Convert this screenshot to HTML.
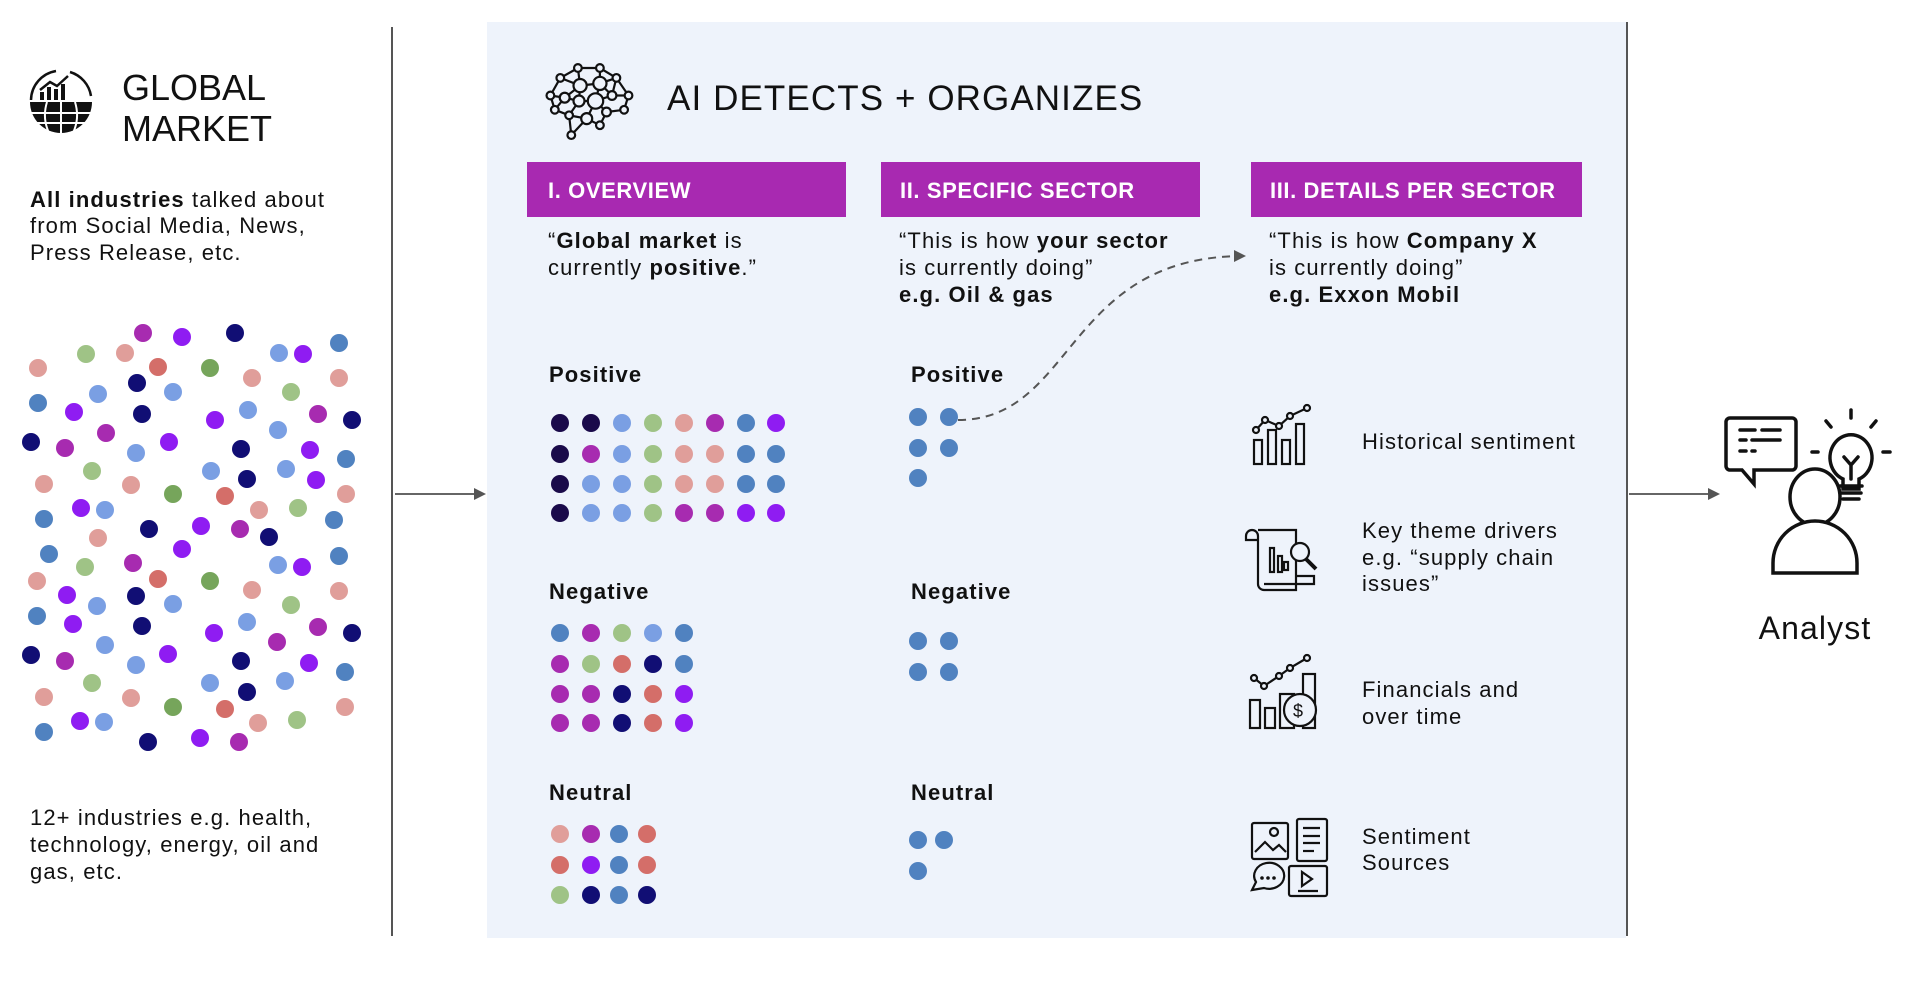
<!DOCTYPE html>
<html><head><meta charset="utf-8"><style>
html,body{margin:0;padding:0;background:#fff;}
svg{display:block;}
text{font-family:"Liberation Sans",sans-serif;fill:#111;}
.b{font-weight:bold;}
.t{letter-spacing:1.1px;}
</style></head><body>
<svg width="1910" height="984" viewBox="0 0 1910 984" xmlns="http://www.w3.org/2000/svg">
<defs>
<marker id="ah" markerWidth="12" markerHeight="12" refX="10" refY="6" orient="auto" markerUnits="userSpaceOnUse"><path d="M0,0 L12,6 L0,12 Z" fill="#555"/></marker>
</defs>
<rect x="487" y="22" width="1139" height="916" fill="#eef3fb"/>
<line x1="392" y1="27" x2="392" y2="936" stroke="#555" stroke-width="2"/>
<line x1="1627" y1="22" x2="1627" y2="936" stroke="#555" stroke-width="2"/>
<line x1="395" y1="494" x2="484" y2="494" stroke="#666" stroke-width="2" marker-end="url(#ah)"/>
<line x1="1629" y1="494" x2="1718" y2="494" stroke="#666" stroke-width="2" marker-end="url(#ah)"/>

<!-- global icon -->
<g stroke="#111" stroke-width="2.5" fill="none">
<path d="M31,100 A30,30 0 0 1 56,71"/><path d="M70,72 A30,30 0 0 1 91,96"/>
<path d="M40,90 L50,82 L57,86 L68,76"/>
</g>
<g fill="#111">
<rect x="40" y="92" width="4" height="8"/><rect x="47" y="87" width="4" height="13"/><rect x="54" y="89" width="4" height="11"/><rect x="61" y="84" width="4" height="16"/>
<path d="M30,102 L92,102 A31,31 0 0 1 30,102 Z"/>
</g>
<g stroke="#eef3fb" stroke-width="0"></g>
<g stroke="#fff" stroke-width="2" fill="none"><path d="M31,113 L91,113 M35,123 L87,123 M61,102 L61,134 M47,102 Q42,118 49,133 M75,102 Q80,118 73,133"/></g>
<text x="122" y="100" font-size="36">GLOBAL</text>
<text x="122" y="141" font-size="36">MARKET</text>
<g class="t" font-size="22">
<text x="30" y="207"><tspan class="b">All industries</tspan> talked about</text>
<text x="30" y="233">from Social Media, News,</text>
<text x="30" y="260">Press Release, etc.</text>
<text x="30" y="825">12+ industries e.g.  health,</text>
<text x="30" y="852">technology, energy, oil and</text>
<text x="30" y="879">gas, etc.</text>
</g>

<!-- scatter -->
<g>
<circle cx="143" cy="333" r="9" fill="#a72bb0"/><circle cx="182" cy="337" r="9" fill="#8f1cf2"/><circle cx="235" cy="333" r="9" fill="#110e74"/><circle cx="339" cy="343" r="9" fill="#5082c0"/><circle cx="279" cy="353" r="9" fill="#7a9fe3"/><circle cx="303" cy="354" r="9" fill="#8f1cf2"/><circle cx="86" cy="354" r="9" fill="#9fc386"/><circle cx="125" cy="353" r="9" fill="#e09e9a"/><circle cx="38" cy="368" r="9" fill="#e09e9a"/><circle cx="158" cy="367" r="9" fill="#d46e69"/><circle cx="210" cy="368" r="9" fill="#76a55b"/><circle cx="252" cy="378" r="9" fill="#e09e9a"/><circle cx="339" cy="378" r="9" fill="#e09e9a"/><circle cx="137" cy="383" r="9" fill="#110e74"/><circle cx="98" cy="394" r="9" fill="#7a9fe3"/><circle cx="173" cy="392" r="9" fill="#7a9fe3"/><circle cx="291" cy="392" r="9" fill="#9fc386"/><circle cx="38" cy="403" r="9" fill="#5082c0"/><circle cx="74" cy="412" r="9" fill="#8f1cf2"/><circle cx="142" cy="414" r="9" fill="#110e74"/><circle cx="215" cy="420" r="9" fill="#8f1cf2"/><circle cx="248" cy="410" r="9" fill="#7a9fe3"/><circle cx="318" cy="414" r="9" fill="#a72bb0"/><circle cx="352" cy="420" r="9" fill="#110e74"/><circle cx="278" cy="430" r="9" fill="#7a9fe3"/><circle cx="31" cy="442" r="9" fill="#110e74"/><circle cx="65" cy="448" r="9" fill="#a72bb0"/><circle cx="106" cy="433" r="9" fill="#a72bb0"/><circle cx="136" cy="453" r="9" fill="#7a9fe3"/><circle cx="169" cy="442" r="9" fill="#8f1cf2"/><circle cx="241" cy="449" r="9" fill="#110e74"/><circle cx="310" cy="450" r="9" fill="#8f1cf2"/><circle cx="346" cy="459" r="9" fill="#5082c0"/><circle cx="92" cy="471" r="9" fill="#9fc386"/><circle cx="211" cy="471" r="9" fill="#7a9fe3"/><circle cx="247" cy="479" r="9" fill="#110e74"/><circle cx="286" cy="469" r="9" fill="#7a9fe3"/><circle cx="316" cy="480" r="9" fill="#8f1cf2"/><circle cx="44" cy="484" r="9" fill="#e09e9a"/><circle cx="131" cy="485" r="9" fill="#e09e9a"/><circle cx="173" cy="494" r="9" fill="#76a55b"/><circle cx="225" cy="496" r="9" fill="#d46e69"/><circle cx="259" cy="510" r="9" fill="#e09e9a"/><circle cx="298" cy="508" r="9" fill="#9fc386"/><circle cx="346" cy="494" r="9" fill="#e09e9a"/><circle cx="81" cy="508" r="9" fill="#8f1cf2"/><circle cx="105" cy="510" r="9" fill="#7a9fe3"/><circle cx="44" cy="519" r="9" fill="#5082c0"/><circle cx="334" cy="520" r="9" fill="#5082c0"/><circle cx="149" cy="529" r="9" fill="#110e74"/><circle cx="201" cy="526" r="9" fill="#8f1cf2"/><circle cx="240" cy="529" r="9" fill="#a72bb0"/><circle cx="269" cy="537" r="9" fill="#110e74"/><circle cx="98" cy="538" r="9" fill="#e09e9a"/><circle cx="182" cy="549" r="9" fill="#8f1cf2"/><circle cx="49" cy="554" r="9" fill="#5082c0"/><circle cx="339" cy="556" r="9" fill="#5082c0"/><circle cx="85" cy="567" r="9" fill="#9fc386"/><circle cx="133" cy="563" r="9" fill="#a72bb0"/><circle cx="278" cy="565" r="9" fill="#7a9fe3"/><circle cx="302" cy="567" r="9" fill="#8f1cf2"/><circle cx="37" cy="581" r="9" fill="#e09e9a"/><circle cx="158" cy="579" r="9" fill="#d46e69"/><circle cx="210" cy="581" r="9" fill="#76a55b"/><circle cx="252" cy="590" r="9" fill="#e09e9a"/><circle cx="339" cy="591" r="9" fill="#e09e9a"/><circle cx="67" cy="595" r="9" fill="#8f1cf2"/><circle cx="136" cy="596" r="9" fill="#110e74"/><circle cx="97" cy="606" r="9" fill="#7a9fe3"/><circle cx="173" cy="604" r="9" fill="#7a9fe3"/><circle cx="291" cy="605" r="9" fill="#9fc386"/><circle cx="37" cy="616" r="9" fill="#5082c0"/><circle cx="73" cy="624" r="9" fill="#8f1cf2"/><circle cx="142" cy="626" r="9" fill="#110e74"/><circle cx="214" cy="633" r="9" fill="#8f1cf2"/><circle cx="247" cy="622" r="9" fill="#7a9fe3"/><circle cx="318" cy="627" r="9" fill="#a72bb0"/><circle cx="352" cy="633" r="9" fill="#110e74"/><circle cx="277" cy="642" r="9" fill="#a72bb0"/><circle cx="31" cy="655" r="9" fill="#110e74"/><circle cx="65" cy="661" r="9" fill="#a72bb0"/><circle cx="105" cy="645" r="9" fill="#7a9fe3"/><circle cx="136" cy="665" r="9" fill="#7a9fe3"/><circle cx="168" cy="654" r="9" fill="#8f1cf2"/><circle cx="241" cy="661" r="9" fill="#110e74"/><circle cx="309" cy="663" r="9" fill="#8f1cf2"/><circle cx="345" cy="672" r="9" fill="#5082c0"/><circle cx="92" cy="683" r="9" fill="#9fc386"/><circle cx="210" cy="683" r="9" fill="#7a9fe3"/><circle cx="247" cy="692" r="9" fill="#110e74"/><circle cx="285" cy="681" r="9" fill="#7a9fe3"/><circle cx="44" cy="697" r="9" fill="#e09e9a"/><circle cx="131" cy="698" r="9" fill="#e09e9a"/><circle cx="173" cy="707" r="9" fill="#76a55b"/><circle cx="225" cy="709" r="9" fill="#d46e69"/><circle cx="258" cy="723" r="9" fill="#e09e9a"/><circle cx="297" cy="720" r="9" fill="#9fc386"/><circle cx="345" cy="707" r="9" fill="#e09e9a"/><circle cx="80" cy="721" r="9" fill="#8f1cf2"/><circle cx="104" cy="722" r="9" fill="#7a9fe3"/><circle cx="44" cy="732" r="9" fill="#5082c0"/><circle cx="148" cy="742" r="9" fill="#110e74"/><circle cx="200" cy="738" r="9" fill="#8f1cf2"/><circle cx="239" cy="742" r="9" fill="#a72bb0"/>
</g>

<!-- brain icon -->
<g transform="translate(590,101) scale(1.1) translate(-590,-101)">
<g stroke="#111" stroke-width="2" fill="#eef3fb">
<path d="M579,71 L599,71 L614,80 L625,96 L621,109 L605,111 L599,123 L587,117 L573,132 L571,114 L558,109 L554,96 L563,80 L579,71 M579,71 L581,87 L599,85 L599,71 M563,80 L581,87 L567,98 L554,96 M581,87 L580,101 L595,101 L599,85 L614,80 L610,96 L595,101 L605,111 L621,109 M610,96 L625,96 M567,98 L580,101 L571,114 L587,117 L595,101 M567,98 L558,109 M571,114 L573,132 M605,111 L599,123 M599,85 L610,96" fill="none"/>
<circle cx="579" cy="71" r="3.5"/><circle cx="599" cy="71" r="3.5"/><circle cx="563" cy="80" r="3.5"/><circle cx="614" cy="80" r="3.5"/><circle cx="581" cy="87" r="6"/><circle cx="599" cy="85" r="6"/><circle cx="554" cy="96" r="3.5"/><circle cx="567" cy="98" r="4.5"/><circle cx="580" cy="101" r="5"/><circle cx="595" cy="101" r="7"/><circle cx="610" cy="96" r="4"/><circle cx="625" cy="96" r="3.5"/><circle cx="558" cy="109" r="3.5"/><circle cx="571" cy="114" r="3.5"/><circle cx="587" cy="117" r="5"/><circle cx="605" cy="111" r="4"/><circle cx="621" cy="109" r="3.5"/><circle cx="599" cy="123" r="3.5"/><circle cx="573" cy="132" r="3.5"/>
</g></g>
<text x="667" y="110" font-size="35" class="t">AI DETECTS + ORGANIZES</text>

<!-- purple headers -->
<rect x="527" y="162" width="319" height="55" fill="#a829b1"/>
<rect x="881" y="162" width="319" height="55" fill="#a829b1"/>
<rect x="1251" y="162" width="331" height="55" fill="#a829b1"/>
<g font-size="22" class="b" style="letter-spacing:0.6px">
<text x="548" y="198" style="fill:#fff">I. OVERVIEW</text>
<text x="900" y="198" style="fill:#fff">II. SPECIFIC SECTOR</text>
<text x="1270" y="198" style="fill:#fff">III. DETAILS PER SECTOR</text>
</g>

<g font-size="22" class="t">
<text x="548" y="248">“<tspan class="b">Global market</tspan> is</text>
<text x="548" y="275">currently <tspan class="b">positive</tspan>.”</text>
<text x="899" y="248">“This is how  <tspan class="b">your sector</tspan></text>
<text x="899" y="275">is currently doing”</text>
<text x="899" y="302" class="b">e.g. Oil &amp; gas</text>
<text x="1269" y="248">“This is how  <tspan class="b">Company X</tspan></text>
<text x="1269" y="275">is currently doing”</text>
<text x="1269" y="302" class="b">e.g. Exxon Mobil</text>

<text x="549" y="382" class="b">Positive</text>
<text x="549" y="599" class="b">Negative</text>
<text x="549" y="800" class="b">Neutral</text>
<text x="911" y="382" class="b">Positive</text>
<text x="911" y="599" class="b">Negative</text>
<text x="911" y="800" class="b">Neutral</text>
</g>

<!-- overview grids -->
<g>
<circle cx="560" cy="423" r="9" fill="#1a0a4a"/><circle cx="591" cy="423" r="9" fill="#1a0a4a"/><circle cx="622" cy="423" r="9" fill="#7a9fe3"/><circle cx="653" cy="423" r="9" fill="#9fc386"/><circle cx="684" cy="423" r="9" fill="#e09e9a"/><circle cx="715" cy="423" r="9" fill="#a72bb0"/><circle cx="746" cy="423" r="9" fill="#5082c0"/><circle cx="776" cy="423" r="9" fill="#8f1cf2"/>
<circle cx="560" cy="454" r="9" fill="#1a0a4a"/><circle cx="591" cy="454" r="9" fill="#a72bb0"/><circle cx="622" cy="454" r="9" fill="#7a9fe3"/><circle cx="653" cy="454" r="9" fill="#9fc386"/><circle cx="684" cy="454" r="9" fill="#e09e9a"/><circle cx="715" cy="454" r="9" fill="#e09e9a"/><circle cx="746" cy="454" r="9" fill="#5082c0"/><circle cx="776" cy="454" r="9" fill="#5082c0"/>
<circle cx="560" cy="484" r="9" fill="#1a0a4a"/><circle cx="591" cy="484" r="9" fill="#7a9fe3"/><circle cx="622" cy="484" r="9" fill="#7a9fe3"/><circle cx="653" cy="484" r="9" fill="#9fc386"/><circle cx="684" cy="484" r="9" fill="#e09e9a"/><circle cx="715" cy="484" r="9" fill="#e09e9a"/><circle cx="746" cy="484" r="9" fill="#5082c0"/><circle cx="776" cy="484" r="9" fill="#5082c0"/>
<circle cx="560" cy="513" r="9" fill="#1a0a4a"/><circle cx="591" cy="513" r="9" fill="#7a9fe3"/><circle cx="622" cy="513" r="9" fill="#7a9fe3"/><circle cx="653" cy="513" r="9" fill="#9fc386"/><circle cx="684" cy="513" r="9" fill="#a72bb0"/><circle cx="715" cy="513" r="9" fill="#a72bb0"/><circle cx="746" cy="513" r="9" fill="#8f1cf2"/><circle cx="776" cy="513" r="9" fill="#8f1cf2"/>

<circle cx="560" cy="633" r="9" fill="#5082c0"/><circle cx="591" cy="633" r="9" fill="#a72bb0"/><circle cx="622" cy="633" r="9" fill="#9fc386"/><circle cx="653" cy="633" r="9" fill="#7a9fe3"/><circle cx="684" cy="633" r="9" fill="#5082c0"/>
<circle cx="560" cy="664" r="9" fill="#a72bb0"/><circle cx="591" cy="664" r="9" fill="#9fc386"/><circle cx="622" cy="664" r="9" fill="#d46e69"/><circle cx="653" cy="664" r="9" fill="#110e74"/><circle cx="684" cy="664" r="9" fill="#5082c0"/>
<circle cx="560" cy="694" r="9" fill="#a72bb0"/><circle cx="591" cy="694" r="9" fill="#a72bb0"/><circle cx="622" cy="694" r="9" fill="#110e74"/><circle cx="653" cy="694" r="9" fill="#d46e69"/><circle cx="684" cy="694" r="9" fill="#8f1cf2"/>
<circle cx="560" cy="723" r="9" fill="#a72bb0"/><circle cx="591" cy="723" r="9" fill="#a72bb0"/><circle cx="622" cy="723" r="9" fill="#110e74"/><circle cx="653" cy="723" r="9" fill="#d46e69"/><circle cx="684" cy="723" r="9" fill="#8f1cf2"/>

<circle cx="560" cy="834" r="9" fill="#e09e9a"/><circle cx="591" cy="834" r="9" fill="#a72bb0"/><circle cx="619" cy="834" r="9" fill="#5082c0"/><circle cx="647" cy="834" r="9" fill="#d46e69"/>
<circle cx="560" cy="865" r="9" fill="#d46e69"/><circle cx="591" cy="865" r="9" fill="#8f1cf2"/><circle cx="619" cy="865" r="9" fill="#5082c0"/><circle cx="647" cy="865" r="9" fill="#d46e69"/>
<circle cx="560" cy="895" r="9" fill="#9fc386"/><circle cx="591" cy="895" r="9" fill="#110e74"/><circle cx="619" cy="895" r="9" fill="#5082c0"/><circle cx="647" cy="895" r="9" fill="#110e74"/>
</g>
<!-- sector dots -->
<path d="M958,420 C1075,420 1065,256 1244,256" stroke="#555" stroke-width="2" fill="none" stroke-dasharray="8,6" marker-end="url(#ah)"/>
<g fill="#5082c0">
<circle cx="918" cy="417" r="9"/><circle cx="949" cy="417" r="9"/><circle cx="918" cy="448" r="9"/><circle cx="949" cy="448" r="9"/><circle cx="918" cy="478" r="9"/>
<circle cx="918" cy="641" r="9"/><circle cx="949" cy="641" r="9"/><circle cx="918" cy="672" r="9"/><circle cx="949" cy="672" r="9"/>
<circle cx="918" cy="840" r="9"/><circle cx="944" cy="840" r="9"/><circle cx="918" cy="871" r="9"/>
</g>

<!-- detail icons -->
<g stroke="#111" stroke-width="2.2" fill="none">
<rect x="1254" y="440" width="8" height="24"/><rect x="1268" y="430" width="8" height="34"/><rect x="1282" y="440" width="8" height="24"/><rect x="1296" y="424" width="8" height="40"/>
<polyline points="1256,430 1265,420 1279,426 1290,416 1307,408"/>
<circle cx="1256" cy="430" r="3" fill="#eef3fb"/><circle cx="1265" cy="420" r="3" fill="#eef3fb"/><circle cx="1279" cy="426" r="3" fill="#eef3fb"/><circle cx="1290" cy="416" r="3" fill="#eef3fb"/><circle cx="1307" cy="408" r="3" fill="#eef3fb"/>

<path d="M1258,530 h38 v60 h-32 a6,6 0 0 1 -6,-6 v-48 a6,6 0 0 0 -6,-6 a6,6 0 0 0 -6,6 v4 h12"/>
<path d="M1264,584 h50 v-8 h-18"/>
<rect x="1270" y="548" width="4" height="24"/><rect x="1278" y="556" width="4" height="16"/><rect x="1284" y="562" width="4" height="8"/>
<circle cx="1300" cy="552" r="9" fill="#eef3fb"/><line x1="1306" y1="559" x2="1316" y2="569" stroke-width="4"/>

<rect x="1250" y="700" width="10" height="28"/><rect x="1265" y="708" width="10" height="20"/><rect x="1280" y="694" width="14" height="34"/><rect x="1303" y="674" width="12" height="54"/>
<circle cx="1300" cy="710" r="16" fill="#eef3fb"/>
<polyline points="1254,678 1264,686 1279,676 1290,668 1307,658"/>
<circle cx="1254" cy="678" r="3" fill="#eef3fb"/><circle cx="1264" cy="686" r="3" fill="#eef3fb"/><circle cx="1279" cy="676" r="3" fill="#eef3fb"/><circle cx="1290" cy="668" r="3" fill="#eef3fb"/><circle cx="1307" cy="658" r="3" fill="#eef3fb"/>

<rect x="1252" y="823" width="36" height="36" rx="2"/><circle cx="1274" cy="832" r="4"/><polyline points="1255,852 1265,842 1273,850 1279,845 1286,852"/>
<rect x="1297" y="819" width="30" height="42" rx="2"/><line x1="1303" y1="828" x2="1320" y2="828"/><line x1="1303" y1="836" x2="1320" y2="836"/><line x1="1303" y1="843" x2="1320" y2="843"/><line x1="1303" y1="851" x2="1314" y2="851"/>
<path d="M1252,890 l4,-8 a15,13 0 1 1 8,6 z"/>
<rect x="1289" y="866" width="38" height="30" rx="2"/><path d="M1302,872 v14 l10,-7 z"/><line x1="1298" y1="891" x2="1318" y2="891"/>
</g>
<g fill="#111"><circle cx="1262" cy="878" r="1.8"/><circle cx="1268" cy="878" r="1.8"/><circle cx="1274" cy="878" r="1.8"/><text x="1293" y="717" font-size="18" style="fill:#111">$</text></g>
<g font-size="22" class="t">
<text x="1362" y="449">Historical sentiment</text>
<text x="1362" y="538">Key theme drivers</text>
<text x="1362" y="565">e.g. “supply chain</text>
<text x="1362" y="591">issues”</text>
<text x="1362" y="697">Financials and</text>
<text x="1362" y="724">over time</text>
<text x="1362" y="844">Sentiment</text>
<text x="1362" y="870">Sources</text>
</g>

<!-- analyst -->
<g stroke="#111" stroke-width="3.5" fill="none" stroke-linecap="round">
<path d="M1730,418 h62 a4,4 0 0 1 4,4 v44 a4,4 0 0 1 -4,4 h-38 v14 l-12,-14 h-12 a4,4 0 0 1 -4,-4 v-44 a4,4 0 0 1 4,-4 z"/>
<line x1="1740" y1="430" x2="1755" y2="430"/><line x1="1762" y1="430" x2="1780" y2="430"/>
<line x1="1740" y1="440" x2="1746" y2="440"/><line x1="1752" y1="440" x2="1780" y2="440"/>
<line x1="1740" y1="451" x2="1746" y2="451"/><line x1="1752" y1="451" x2="1755" y2="451"/>
<ellipse cx="1815" cy="497" rx="25" ry="28" fill="#fff"/>
<path d="M1773,573 v-10 a42,42 0 0 1 84,0 v10 z" fill="#fff"/>
<path d="M1843,479 a21,23 0 1 1 16,0 v10 h-16 z" fill="#fff"/>
<path d="M1840,486 h22 M1841,493 h20 M1843,499 h16"/>
<path d="M1851,479 v-14 l-7,-8 M1851,465 l7,-8"/>
<line x1="1851" y1="410" x2="1851" y2="418"/><line x1="1826" y1="421" x2="1831" y2="427"/><line x1="1876" y1="421" x2="1871" y2="427"/>
<line x1="1812" y1="452" x2="1818" y2="452"/><line x1="1883" y1="452" x2="1890" y2="452"/>
</g>
<text x="1815" y="639" font-size="32" text-anchor="middle" class="t">Analyst</text>
</svg>
</body></html>
